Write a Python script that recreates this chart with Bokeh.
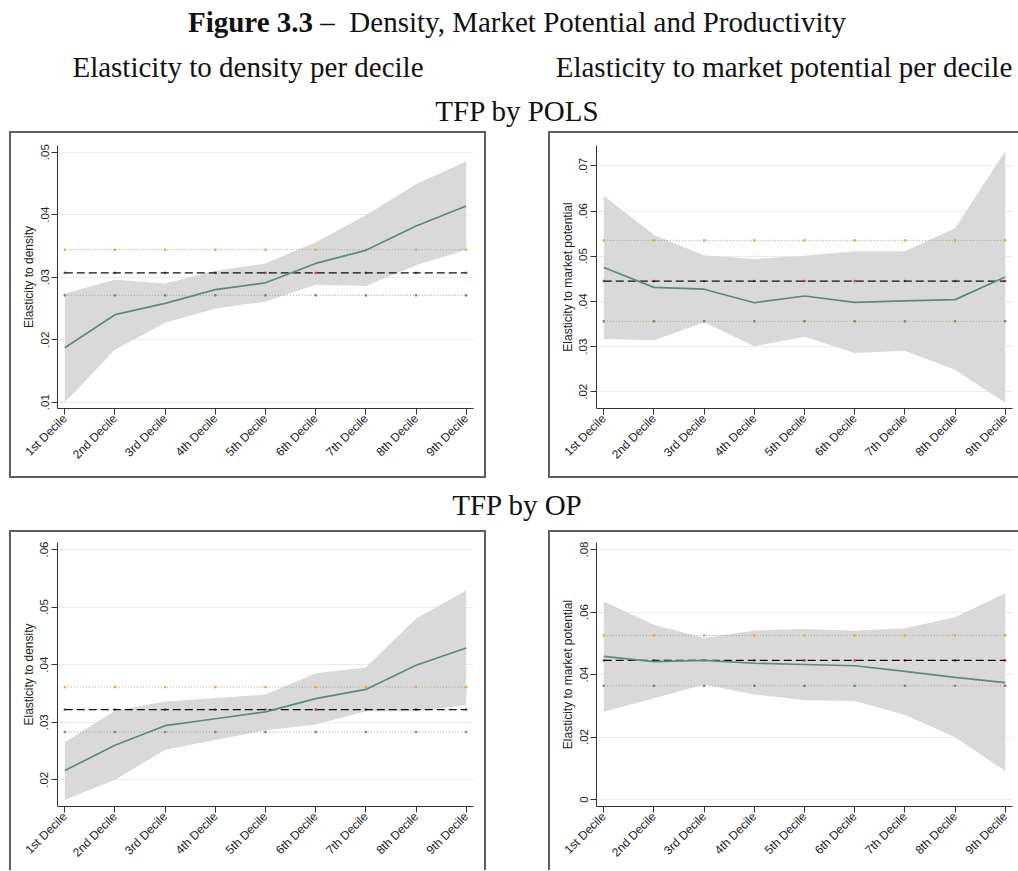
import math
from bokeh.plotting import figure
from bokeh.models import Range1d, FixedTicker, Div, Spacer
from bokeh.layouts import column, row
from bokeh.embed import file_html
from bokeh.resources import INLINE

# ---------------- data ----------------
deciles = ["1st Decile", "2nd Decile", "3rd Decile", "4th Decile", "5th Decile",
           "6th Decile", "7th Decile", "8th Decile", "9th Decile"]
xpos = [1, 2, 3, 4, 5, 6, 7, 8, 9]

# TFP by POLS - elasticity to density
pols_dens_est = [0.0187, 0.0240, 0.0258, 0.0280, 0.0291, 0.0322, 0.0343, 0.0382, 0.0414]
pols_dens_hi = [0.0274, 0.0296, 0.0290, 0.0310, 0.0322, 0.0356, 0.0399, 0.0449, 0.0485]
pols_dens_lo = [0.0100, 0.0184, 0.0227, 0.0250, 0.0261, 0.0288, 0.0286, 0.0319, 0.0344]
pols_dens_avg = [0.0271, 0.0307, 0.0344]          # lower CI, mean, upper CI

# TFP by POLS - elasticity to market potential
pols_mp_est = [0.0475, 0.0431, 0.0427, 0.0397, 0.0412, 0.0398, 0.0401, 0.0404, 0.0454]
pols_mp_hi = [0.0634, 0.0547, 0.0502, 0.0494, 0.0501, 0.0511, 0.0511, 0.0562, 0.0732]
pols_mp_lo = [0.0317, 0.0314, 0.0354, 0.0301, 0.0322, 0.0286, 0.0291, 0.0249, 0.0176]
pols_mp_avg = [0.0356, 0.0445, 0.0535]

# TFP by OP - elasticity to density
op_dens_est = [0.0216, 0.0260, 0.0294, 0.0306, 0.0318, 0.0341, 0.0357, 0.0399, 0.0429]
op_dens_hi = [0.0265, 0.0320, 0.0336, 0.0342, 0.0348, 0.0385, 0.0395, 0.0480, 0.0529]
op_dens_lo = [0.0165, 0.0200, 0.0252, 0.0269, 0.0286, 0.0296, 0.0319, 0.0319, 0.0330]
op_dens_avg = [0.0283, 0.0322, 0.0361]

# TFP by OP - elasticity to market potential
op_mp_est = [0.0458, 0.0441, 0.0445, 0.0436, 0.0432, 0.0428, 0.0410, 0.0391, 0.0374]
op_mp_hi = [0.0634, 0.0559, 0.0517, 0.0541, 0.0546, 0.0540, 0.0548, 0.0583, 0.0660]
op_mp_lo = [0.0281, 0.0324, 0.0368, 0.0336, 0.0318, 0.0315, 0.0271, 0.0199, 0.0091]
op_mp_avg = [0.0364, 0.0445, 0.0525]

yticks_pols_dens = [0.01, 0.02, 0.03, 0.04, 0.05]
ylabels_pols_dens = [".01", ".02", ".03", ".04", ".05"]
yticks_pols_mp = [0.02, 0.03, 0.04, 0.05, 0.06, 0.07]
ylabels_pols_mp = [".02", ".03", ".04", ".05", ".06", ".07"]
yticks_op_dens = [0.02, 0.03, 0.04, 0.05, 0.06]
ylabels_op_dens = [".02", ".03", ".04", ".05", ".06"]
yticks_op_mp = [0.0, 0.02, 0.04, 0.06, 0.08]
ylabels_op_mp = ["0", ".02", ".04", ".06", ".08"]

title_bold = "Figure 3.3"
title_rest = "Density, Market Potential and Productivity"
col_titles = ["Elasticity to density per decile", "Elasticity to market potential per decile"]
row_titles = ["TFP by POLS", "TFP by OP"]
ytitles = ["Elasticity to density", "Elasticity to market potential"]

# ---------------- styling ----------------
SANS = "Liberation Sans"
BOX = "#5f5f5f"
BAND = "#d9d9d9"
LINE = "#60897c"
GRID = "#e4edef"
AX = "#333333"


def panel(width, height, yr, yticks, ylabels, ytitle, est, lo, hi, avg,
          top, bottom, right, shadow):
    p = figure(width=width, height=height,
               x_range=Range1d(0.855, 9.145), y_range=Range1d(*yr),
               output_backend="svg", toolbar_location=None,
               min_border_left=48, min_border_right=right,
               min_border_top=top, min_border_bottom=bottom,
               border_fill_color=None, background_fill_color=None,
               outline_line_color=None, margin=(0, 0, 0, 0),
               styles={"box-shadow": shadow})
    p.varea(x=xpos, y1=lo, y2=hi, fill_color=BAND, fill_alpha=1.0)
    n = len(xpos)
    p.line(xpos, [avg[2]] * n, line_color="#a0a094", line_dash="1 2", line_width=1)
    p.line(xpos, [avg[0]] * n, line_color="#a0a094", line_dash="1 2", line_width=1)
    p.scatter(xpos, [avg[2]] * n, marker="square", size=1.6, color="#f0a040", alpha=0.8)
    p.scatter(xpos, [avg[0]] * n, marker="square", size=1.6, color="#80804a", alpha=0.8)
    p.scatter(xpos, [avg[1]] * n, marker="square", size=1.6, color="#c84040", alpha=0.8)
    p.line(xpos, [avg[1]] * n, line_color="#111111", line_dash="8 4", line_width=1.3)
    p.line(xpos, est, line_color=LINE, line_width=1.7)

    xa = p.xaxis[0]
    xa.ticker = FixedTicker(ticks=xpos)
    xa.major_label_overrides = {x: d for x, d in zip(xpos, deciles)}
    xa.major_label_orientation = math.pi / 4
    xa.minor_tick_line_color = None
    xa.major_tick_out = 6
    xa.major_tick_in = 0
    xa.major_label_standoff = 2
    xa.axis_line_color = AX
    xa.major_tick_line_color = AX
    xa.major_label_text_font = SANS
    xa.major_label_text_font_size = "12px"
    xa.major_label_text_color = "#222222"

    ya = p.yaxis[0]
    yt = FixedTicker(ticks=yticks)
    ya.ticker = yt
    ya.major_label_overrides = {t: l for t, l in zip(yticks, ylabels)}
    ya.major_label_orientation = "vertical"
    ya.minor_tick_line_color = None
    ya.major_tick_out = 6
    ya.major_tick_in = 0
    ya.major_label_standoff = 3
    ya.axis_line_color = AX
    ya.major_tick_line_color = AX
    ya.major_label_text_font = SANS
    ya.major_label_text_font_size = "11.5px"
    ya.major_label_text_color = "#222222"
    ya.axis_label = ytitle
    ya.axis_label_text_font = SANS
    ya.axis_label_text_font_style = "normal"
    ya.axis_label_text_font_size = "12px"
    ya.axis_label_text_color = "#222222"
    ya.axis_label_standoff = 2

    p.xgrid.visible = False
    p.ygrid[0].ticker = yt
    p.ygrid.grid_line_color = GRID
    p.ygrid.grid_line_width = 1
    return p


S_ALL = f"inset 2px 2px 0 0 {BOX}, inset -2px -2px 0 0 {BOX}"
S_LTB = f"inset 2px 2px 0 0 {BOX}, inset 0 -2px 0 0 {BOX}"
S_LTR = f"inset 2px 2px 0 0 {BOX}, inset -2px 0 0 0 {BOX}"
S_LT = f"inset 2px 2px 0 0 {BOX}"

p1 = panel(477, 347, (0.00899, 0.05107), yticks_pols_dens, ylabels_pols_dens, ytitles[0],
           pols_dens_est, pols_dens_lo, pols_dens_hi, pols_dens_avg, 14, 70, 13, S_ALL)
p2 = panel(470, 347, (0.01631, 0.07449), yticks_pols_mp, ylabels_pols_mp, ytitles[1],
           pols_mp_est, pols_mp_lo, pols_mp_hi, pols_mp_avg, 14, 70, 6, S_LTB)
p3 = panel(477, 340, (0.01536, 0.06122), yticks_op_dens, ylabels_op_dens, ytitles[0],
           op_dens_est, op_dens_lo, op_dens_hi, op_dens_avg, 12, 64, 13, S_LTR)
p4 = panel(470, 340, (-0.00224, 0.08224), yticks_op_mp, ylabels_op_mp, ytitles[1],
           op_mp_est, op_mp_lo, op_mp_hi, op_mp_avg, 12, 64, 6, S_LT)

SERIF = ("font-family:'Liberation Serif','Times New Roman',serif;font-size:29px;"
         "line-height:29px;color:#111;white-space:nowrap;position:absolute;")

header_html = (
    '<div style="position:relative;width:1018px;height:131px;">'
    f'<div style="{SERIF}top:8px;left:17px;width:1000px;text-align:center;">'
    f'<b>{title_bold}</b> &#8211;&nbsp; {title_rest}</div>'
    f'<div style="{SERIF}top:53px;left:48px;width:400px;text-align:center;">{col_titles[0]}</div>'
    f'<div style="{SERIF}top:53px;left:554px;width:460px;text-align:center;">{col_titles[1]}</div>'
    f'<div style="{SERIF}top:97px;left:17px;width:1000px;text-align:center;">{row_titles[0]}</div>'
    '</div>'
)
mid_html = (
    '<div style="position:relative;width:1018px;height:52px;">'
    f'<div style="{SERIF}top:13px;left:17px;width:1000px;text-align:center;">{row_titles[1]}</div>'
    '</div>'
)

header = Div(text=header_html, width=1018, height=131, margin=(0, 0, 0, 0))
mid = Div(text=mid_html, width=1018, height=52, margin=(0, 0, 0, 0))

layout = column(
    header,
    row(Spacer(width=9, height=347, margin=(0, 0, 0, 0)), p1,
        Spacer(width=62, height=347, margin=(0, 0, 0, 0)), p2),
    mid,
    row(Spacer(width=9, height=340, margin=(0, 0, 0, 0)), p3,
        Spacer(width=62, height=340, margin=(0, 0, 0, 0)), p4),
)

open("out.html", "w").write(file_html(layout, INLINE))
